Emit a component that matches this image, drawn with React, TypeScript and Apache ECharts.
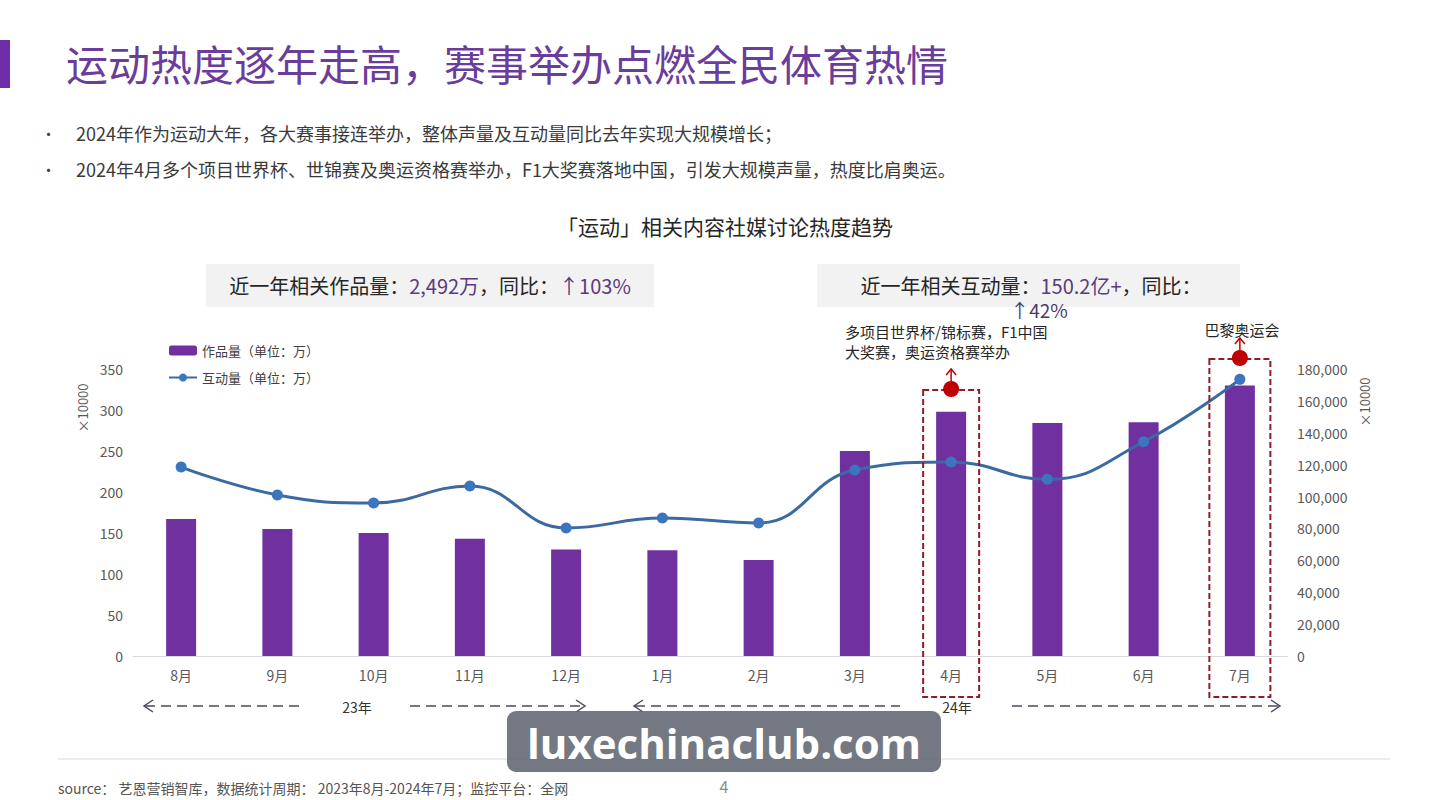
import React, { useEffect, useRef } from "react";
import * as echarts from "echarts";

const months = ["8月", "9月", "10月", "11月", "12月", "1月", "2月", "3月", "4月", "5月", "6月", "7月"];
const worksVolume = [167, 155, 150, 143, 130, 129, 117, 250, 298, 284, 285, 330];
const interactionVolume = [118500, 101000, 96000, 106600, 80300, 86500, 83400, 116700, 121700, 110800, 134400, 173500];
const leftAxis = { min: 0, max: 350, interval: 50 };
const rightAxis = { min: 0, max: 180000, interval: 20000 };
const highlightMonths = ["4月", "7月"];
const seriesNames = ["作品量（单位：万）", "互动量（单位：万）"];

const FONT = '"Noto Sans CJK SC", "Noto Sans", sans-serif';
const PURPLE = "#7030a0";
const LINE = "#3b6aa0";
const RED = "#c00000";
const BOXRED = "#8b1e2a";

function App() {
  const ref = useRef<HTMLDivElement>(null);
  useEffect(() => {
    document.body.style.margin = "0";
    const chart = echarts.init(ref.current!, undefined, { renderer: "svg" });
    const option: any = {
      animation: false,
      backgroundColor: "#ffffff",
      textStyle: { fontFamily: FONT },
      grid: { left: 133, right: 158, top: 369, bottom: 144, containLabel: false },
      legend: {
        orient: "vertical",
        left: 163,
        top: 339,
        itemGap: 14,
        itemWidth: 28,
        itemHeight: 10,
        textStyle: { fontSize: 13, color: "#404040", fontFamily: FONT },
        data: seriesNames,
      },
      xAxis: {
        type: "category",
        data: months,
        axisLine: { lineStyle: { color: "#d9d9d9", width: 1 } },
        axisTick: { show: false },
        axisLabel: { color: "#595959", fontSize: 14, margin: 12, fontFamily: FONT },
      },
      yAxis: [
        {
          type: "value",
          ...leftAxis,
          splitLine: { show: false },
          axisLine: { show: false },
          axisTick: { show: false },
          axisLabel: { color: "#595959", fontSize: 14, margin: 10, fontFamily: FONT },
        },
        {
          type: "value",
          ...rightAxis,
          position: "right",
          splitLine: { show: false },
          axisLine: { show: false },
          axisTick: { show: false },
          axisLabel: {
            color: "#595959",
            fontSize: 14,
            margin: 9,
            fontFamily: FONT,
            formatter: (v: number) => v.toLocaleString("en-US"),
          },
        },
      ],
      series: [
        {
          name: seriesNames[0],
          type: "bar",
          data: worksVolume,
          barWidth: 30,
          itemStyle: { color: PURPLE },
          yAxisIndex: 0,
        },
        {
          name: seriesNames[1],
          type: "line",
          data: interactionVolume,
          yAxisIndex: 1,
          smooth: 0.45,
          symbol: "circle",
          symbolSize: 11,
          lineStyle: { color: LINE, width: 3 },
          itemStyle: { color: "#3a75bd" },
          z: 5,
        },
      ],
    };
    chart.setOption(option);

    const cx = (m: string) => chart.convertToPixel({ xAxisIndex: 0 }, m) as number;
    const g: any[] = [];

    // Title & accents
    g.push({ type: "rect", shape: { x: 0, y: 40, width: 10, height: 48 }, style: { fill: "#6f2da8" } });
    g.push({
      type: "text", x: 66, y: 62,
      style: { text: "运动热度逐年走高，赛事举办点燃全民体育热情", fontSize: 42, fill: "#6a3d9c", fontFamily: FONT, verticalAlign: "middle" },
    });
    const bullets = [
      "2024年作为运动大年，各大赛事接连举办，整体声量及互动量同比去年实现大规模增长；",
      "2024年4月多个项目世界杯、世锦赛及奥运资格赛举办，F1大奖赛落地中国，引发大规模声量，热度比肩奥运。",
    ];
    bullets.forEach((t, i) => {
      const y = 133 + i * 36;
      g.push({ type: "text", x: 41, y, style: { text: "•", fontSize: 15, fill: "#404040", fontFamily: FONT, verticalAlign: "middle" } });
      g.push({ type: "text", x: 76, y, style: { text: t, fontSize: 18, fill: "#3a3a3a", fontFamily: FONT, verticalAlign: "middle" } });
    });

    // chart title
    g.push({
      type: "text", x: 725, y: 226,
      style: { text: "「运动」相关内容社媒讨论热度趋势", fontSize: 21, fill: "#262626", fontFamily: FONT, align: "center", verticalAlign: "middle" },
    });

    // summary boxes
    g.push({ type: "rect", shape: { x: 206, y: 264, width: 448, height: 43 }, style: { fill: "#f2f2f2" } });
    g.push({
      type: "text", x: 430, y: 285,
      style: {
        text: "{a|近一年相关作品量：}{b|2,492万}{a|，同比：}{b|↑103%}",
        align: "center", verticalAlign: "middle",
        rich: {
          a: { fontSize: 20, fill: "#262626", fontFamily: FONT },
          b: { fontSize: 20, fill: "#5b3a7e", fontFamily: FONT },
        },
      },
    });
    g.push({ type: "rect", shape: { x: 817, y: 264, width: 423, height: 43 }, style: { fill: "#f2f2f2" } });
    g.push({
      type: "text", x: 1031, y: 285,
      style: {
        text: "{a|近一年相关互动量：}{b|150.2亿+}{a|，同比：}",
        align: "center", verticalAlign: "middle",
        rich: {
          a: { fontSize: 20, fill: "#262626", fontFamily: FONT },
          b: { fontSize: 20, fill: "#5b3a7e", fontFamily: FONT },
        },
      },
    });
    g.push({
      type: "text", x: 1039, y: 309.5,
      style: { text: "↑42%", fontSize: 19, fill: "#4a3a66", fontFamily: FONT, align: "center", verticalAlign: "middle" },
    });

    // annotations
    g.push({
      type: "text", x: 845, y: 341,
      style: { text: "多项目世界杯/锦标赛，F1中国\n大奖赛，奥运资格赛举办", fontSize: 15, lineHeight: 20, fill: "#262626", fontFamily: FONT, verticalAlign: "middle" },
    });
    g.push({
      type: "text", x: 1242, y: 329,
      style: { text: "巴黎奥运会", fontSize: 15, fill: "#262626", fontFamily: FONT, align: "center", verticalAlign: "middle" },
    });

    const boxSpecs = [
      { m: highlightMonths[0], top: 390, w: 56 },
      { m: highlightMonths[1], top: 359, w: 61 },
    ];
    boxSpecs.forEach((b) => {
      const x = cx(b.m);
      g.push({
        type: "rect", z: 20,
        shape: { x: x - b.w / 2, y: b.top, width: b.w, height: 697 - b.top },
        style: { fill: "none", stroke: BOXRED, lineWidth: 2, lineDash: [6, 3] },
      });
      g.push({ type: "line", z: 21, shape: { x1: x, y1: b.top - 4, x2: x, y2: b.top - 21 }, style: { stroke: RED, lineWidth: 1.5 } });
      g.push({
        type: "polyline", z: 21,
        shape: { points: [[x - 5, b.top - 15], [x, b.top - 21], [x + 5, b.top - 15]] },
        style: { stroke: RED, lineWidth: 1.5, fill: "none" },
      });
      g.push({ type: "circle", z: 22, shape: { cx: x, cy: b.top - 1, r: 8 }, style: { fill: RED } });
    });

    // axis unit labels
    g.push({
      type: "text", x: 82, y: 408, rotation: Math.PI / 2,
      style: { text: "×10000", fontSize: 13, fill: "#595959", fontFamily: FONT, align: "center", verticalAlign: "middle" },
    });
    g.push({
      type: "text", x: 1364, y: 402, rotation: Math.PI / 2,
      style: { text: "×10000", fontSize: 13, fill: "#595959", fontFamily: FONT, align: "center", verticalAlign: "middle" },
    });

    // year arrows
    const AR = "#4d4a5c";
    const dashLine = (x1: number, x2: number) =>
      g.push({ type: "line", shape: { x1, y1: 706, x2, y2: 706 }, style: { stroke: AR, lineWidth: 1.5, lineDash: [10, 6] } });
    const head = (x: number, dir: number) =>
      g.push({
        type: "polyline",
        shape: { points: [[x + dir * 9, 700], [x, 706], [x + dir * 9, 712]] },
        style: { stroke: AR, lineWidth: 1.5, fill: "none" },
      });
    dashLine(145, 305); head(144, 1);
    dashLine(410, 584); head(585, -1);
    dashLine(635, 900); head(634, 1);
    dashLine(1012, 1278); head(1280, -1);
    g.push({ type: "text", x: 357, y: 707, style: { text: "23年", fontSize: 14, fill: "#333", fontFamily: FONT, align: "center", verticalAlign: "middle" } });
    g.push({ type: "text", x: 957, y: 707, style: { text: "24年", fontSize: 14, fill: "#333", fontFamily: FONT, align: "center", verticalAlign: "middle" } });

    // footer
    g.push({ type: "line", shape: { x1: 58, y1: 759, x2: 1390, y2: 759 }, style: { stroke: "#d9d9d9", lineWidth: 1 } });
    g.push({
      type: "text", x: 58, y: 788,
      style: { text: "source： 艺恩营销智库，数据统计周期： 2023年8月-2024年7月；监控平台：全网", fontSize: 14, fill: "#555", fontFamily: FONT, verticalAlign: "middle" },
    });
    g.push({ type: "text", x: 724, y: 786, style: { text: "4", fontSize: 16, fill: "#8c8c8c", fontFamily: FONT, align: "center", verticalAlign: "middle" } });

    // watermark
    g.push({ type: "rect", z: 50, shape: { x: 507, y: 711, width: 434, height: 61, r: 9 }, style: { fill: "rgba(96,101,113,0.88)" } });
    g.push({
      type: "text", z: 51, x: 724, y: 742,
      style: { text: "luxechinaclub.com", fontSize: 42, fontWeight: "bold", fill: "#ffffff", fontFamily: '"Open Sans", sans-serif', align: "center", verticalAlign: "middle" },
    });

    chart.setOption({ graphic: { elements: g } });
    return () => chart.dispose();
  }, []);
  return <div ref={ref} style={{ position: "absolute", left: 0, top: 0, width: 1446, height: 800 }} />;
}

export default App;
